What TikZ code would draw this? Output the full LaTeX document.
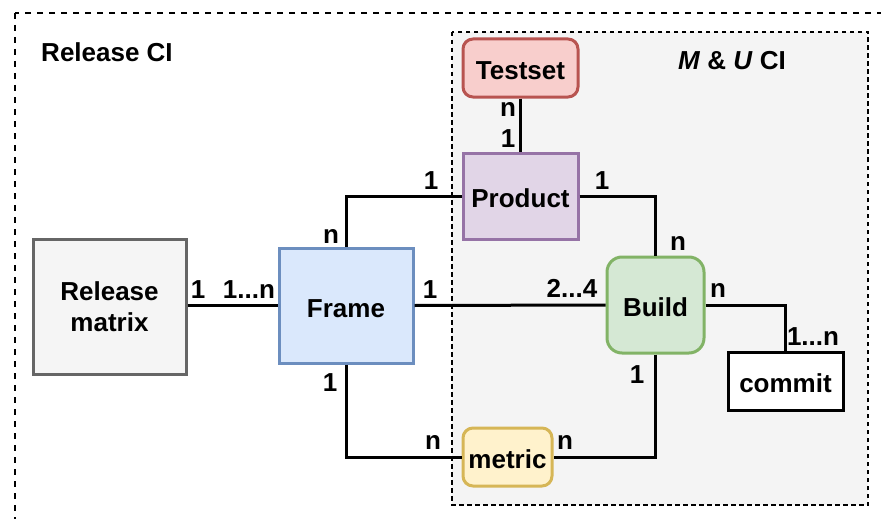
\documentclass[tikz,border=0pt]{standalone}
\usepackage{fontspec}
\setmainfont{Liberation Sans}
\definecolor{grpfill}{HTML}{F4F4F4}
\definecolor{relfill}{HTML}{F5F5F5}\definecolor{reldraw}{HTML}{666666}
\definecolor{frmfill}{HTML}{DAE8FC}\definecolor{frmdraw}{HTML}{6C8EBF}
\definecolor{tstfill}{HTML}{F8CECC}\definecolor{tstdraw}{HTML}{B85450}
\definecolor{prdfill}{HTML}{E1D5E7}\definecolor{prddraw}{HTML}{9673A6}
\definecolor{bldfill}{HTML}{D5E8D4}\definecolor{blddraw}{HTML}{82B366}
\definecolor{metfill}{HTML}{FFF2CC}\definecolor{metdraw}{HTML}{D6B656}
\tikzset{
  every node/.style={font=\fontsize{26}{30}\selectfont\bfseries},
  entity/.style={draw, line width=3pt, inner sep=0pt, align=center},
  oneline/.style={text height=23pt, text depth=0pt},
  link/.style={line width=3pt},
  lbl/.style={anchor=base, inner sep=0pt},
}
\begin{document}
\begin{tikzpicture}[x=1pt, y=-1pt]
  \useasboundingbox (0,0) rectangle (881,519);
  \clip (0,0) rectangle (881,519);
  % outer frame of the release CI
  \draw[line width=2pt, dash pattern=on 6pt off 6pt] (15,13) rectangle (900,540);
  % group for M & U CI
  \draw[fill=grpfill, line width=1.5pt, dash pattern=on 4.5pt off 3.5pt] (452,32) rectangle (868,505);
  \node[lbl] (relci) at (107,62) {Release CI};
  \node[lbl] (muci) at (732,70) {\textit{M} \& \textit{U} CI};

  % entities
  \node[entity, fill=relfill, draw=reldraw, minimum width=153pt, minimum height=135pt] (release) at (109.5,307) {Release\\[1pt]matrix};
  \node[entity, oneline, fill=frmfill, draw=frmdraw, minimum width=134pt, minimum height=115pt] (frame) at (346,305.5) {Frame};
  \node[entity, oneline, fill=tstfill, draw=tstdraw, rounded corners=10pt, minimum width=115pt, minimum height=58pt] (testset) at (520.5,68) {Testset};
  \node[entity, oneline, fill=prdfill, draw=prddraw, minimum width=115pt, minimum height=86pt] (product) at (520.5,196) {Product};
  \node[entity, oneline, fill=bldfill, draw=blddraw, rounded corners=15pt, minimum width=97pt, minimum height=96pt] (build) at (655.5,305) {Build};
  \node[entity, oneline, fill=white, draw=black, minimum width=115pt, minimum height=58pt] (commit) at (785.5,381) {commit};
  \node[entity, oneline, fill=metfill, draw=metdraw, rounded corners=10pt, minimum width=89pt, minimum height=58pt] (metric) at (507.5,457) {metric};

  % relations
  \draw[link] (release.east |- frame.west) -- (frame.west);
  \draw[link] (frame.east) -- (build.west);
  \draw[link] (frame.north) |- (product.west);
  \draw[link] (frame.south) |- (metric.west);
  \draw[link] (product.east) -| (build.north);
  \draw[link] (build.south) |- (metric.east);
  \draw[link] (build.east) -| (commit.north);
  \draw[link] (testset.south) -- (product.north);

  % multiplicities
  \node[lbl] (m1) at (198,298) {1};
  \node[lbl] (m2) at (249,298) {1...n};
  \node[lbl] (m3) at (331,243) {n};
  \node[lbl] (m4) at (431,189) {1};
  \node[lbl] (m5) at (430,298) {1};
  \node[lbl] (m6) at (572,297) {2...4};
  \node[lbl] (m7) at (330,391) {1};
  \node[lbl] (m8) at (433,449) {n};
  \node[lbl] (m9) at (602,189) {1};
  \node[lbl] (m10) at (678,250) {n};
  \node[lbl] (m11) at (718,297) {n};
  \node[lbl] (m12) at (813,345) {1...n};
  \node[lbl] (m13) at (637,383) {1};
  \node[lbl] (m14) at (565,449) {n};
  \node[lbl] (m15) at (508,117) {n};
  \node[lbl] (m16) at (508,147) {1};
\end{tikzpicture}
\end{document}
